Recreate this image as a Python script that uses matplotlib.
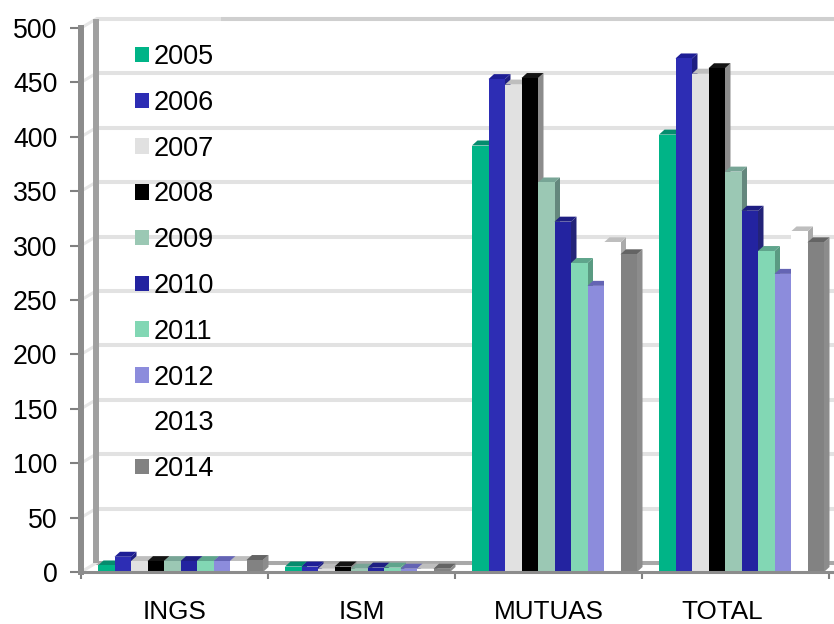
import matplotlib
matplotlib.use("Agg")
import matplotlib.pyplot as plt
from matplotlib.patches import Patch

plt.rcParams['font.family'] = ['Liberation Sans', 'DejaVu Sans']

categories = ["INGS", "ISM", "MUTUAS", "TOTAL"]
years = ["2005", "2006", "2007", "2008", "2009", "2010", "2011", "2012", "2013", "2014"]
# one row per category, one value per year
ings = [6, 14, 10, 10, 10, 10, 10, 10, 10, 11]
ism = [5, 5, 3, 5, 3, 4, 4, 3, 3, 3]
mutuas = [392, 453, 448, 454, 358, 322, 284, 263, 303, 292]
total = [402, 472, 458, 463, 368, 332, 295, 274, 313, 303]
rows = [ings, ism, mutuas, total]

colors = ["#00b487", "#2d2db4", "#e1e1e1", "#000000", "#9bc8b4",
          "#2323a0", "#82d7b4", "#8c8cdc", "#ffffff", "#828282"]
side_colors = ["#058c6e", "#1e1e82", "#b4b4b4", "#8c8c8c", "#64877d",
               "#232378", "#5a9b82", "#6464aa", "#aaaaaa", "#8c8c8c"]
top_colors = ["#058c6e", "#1e1e96", "#bebebe", "#141414", "#78a596",
              "#1e1e82", "#5fa58c", "#6464b4", "#bebebe", "#646464"]

W, H = 834, 624
left, right, bottom, top = 81, 834, 572, 28
cat_px = 187.0
val_px = (bottom - top) / 500.0
bar_px = 16.5
dx_bar, dy_bar = 5.5 / cat_px, 5 / val_px     # depth of a bar
dx_wall, dy_wall = 15 / cat_px, 9 / val_px    # depth of the walls

fig = plt.figure(figsize=(W / 100, H / 100), dpi=100)
ax = fig.add_axes([left / W, 1 - bottom / H, (right - left) / W, (bottom - top) / H])
ax.set_xlim(0, (right - left) / cat_px)
ax.set_ylim(0, 500)

ticks = list(range(0, 501, 50))
xmax = (right - left) / cat_px

# walls and gridlines
for t in ticks:
    col = "#a8a8a8" if t == 0 else "#e2e2e2"
    ax.plot([dx_wall, xmax], [t + dy_wall, t + dy_wall], color=col, lw=2.9, zorder=1,
            clip_on=False, solid_capstyle="butt")
    ax.plot([0, dx_wall], [t, t + dy_wall], color="#e6e6e6", lw=2.2, zorder=2, clip_on=False)
ax.plot([0.75, xmax], [500 + dy_wall, 500 + dy_wall], color="#cfcfcf", lw=2.9, zorder=1,
        clip_on=False, solid_capstyle="butt")
ax.plot([dx_wall, dx_wall], [0 + dy_wall, 500 + dy_wall], color="#a0a0a0", lw=4.3, zorder=3,
        clip_on=False, solid_capstyle="butt")

# bars, left to right so each one covers the side of the previous
z = 5
for c, row in enumerate(rows):
    for i, v in enumerate(row):
        x0 = c + (17 + i * bar_px) / cat_px
        x1 = x0 + bar_px / cat_px
        ax.fill([x1, x1 + dx_bar, x1 + dx_bar, x1], [0, dy_bar, v + dy_bar, v],
                color=side_colors[i], lw=0, zorder=z, clip_on=False)
        ax.fill([x0, x0 + dx_bar, x1 + dx_bar, x1], [v, v + dy_bar, v + dy_bar, v],
                color=top_colors[i], lw=0, zorder=z, clip_on=False)
        ax.bar(x0, v, width=bar_px / cat_px, align="edge", color=colors[i], lw=0, zorder=z + 1)
        z += 2

# axes
for s in ["top", "right"]:
    ax.spines[s].set_visible(False)
ax.spines["left"].set_color("#8c8c8c")
ax.spines["left"].set_linewidth(4.3)
ax.spines["bottom"].set_color("#8c8c8c")
ax.spines["bottom"].set_linewidth(2.2)
ax.spines["bottom"].set_zorder(100)

ax.set_yticks(ticks)
ax.set_xticks(range(0, 5))
ax.set_xticklabels([])
ax.tick_params(axis="y", length=8, width=1.5, color="#808080", labelsize=19.2, pad=9)
ax.tick_params(axis="x", length=5, width=1.5, color="#808080")

label_pos = [0.5, 1.5, 2.5, 3.43]
for p, name in zip(label_pos, categories):
    ax.text(p, -40 / val_px, name, ha="center", va="center", fontsize=18.8)

handles = [Patch(facecolor=c, edgecolor="none", label=y) for c, y in zip(colors, years)]
leg = ax.legend(handles=handles, loc="upper left", bbox_to_anchor=((127 - left) / (right - left), 1.0 - (8 / 544)),
                frameon=False, fontsize=19.5, labelspacing=0.73, handlelength=0.5, handleheight=0.5,
                handletextpad=0.2, borderpad=0.3, borderaxespad=0)
leg.set_zorder(200)

fig.savefig("out.png", dpi=100)
